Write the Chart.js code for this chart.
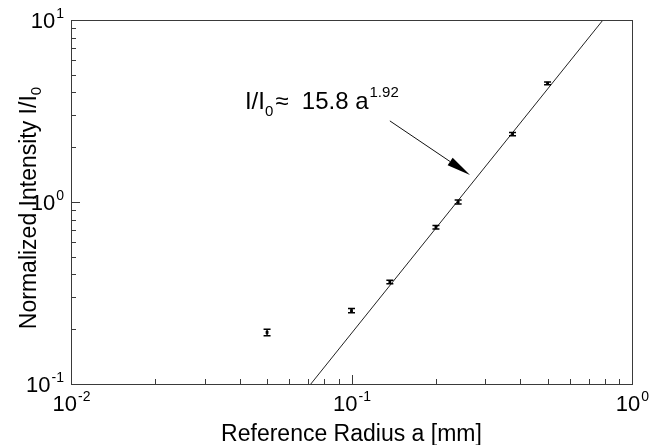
<!DOCTYPE html>
<html>
<head>
<meta charset="utf-8">
<script src="https://cdn.jsdelivr.net/npm/chart.js@4/dist/chart.umd.min.js"></script>
<style>
    html, body { margin: 0; padding: 0; background: #fff; }
    #wrap { width: 649px; height: 445px; position: relative; }
</style>
</head>
<body>
<div id="wrap"><canvas id="myChart"></canvas></div>
<script>
// measured points: reference radius [mm] vs normalized intensity
const RADIUS = [0.05, 0.1, 0.137, 0.2, 0.24, 0.375, 0.5];
const INTENSITY = [0.192, 0.253, 0.363, 0.726, 1.0, 2.36, 4.49];
const INTENSITY_ERR = [0.008, 0.007, 0.008, 0.016, 0.025, 0.05, 0.08];

// fit line I/I0 = 15.8 a^1.92, endpoints read where it leaves the frame
const FIT_RADIUS = [0.0716, 0.788];
const FIT_INTENSITY = [0.1, 10];

// decade tick labels (exponents of 10)
const X_TICK_EXP = [-2, -1, 0];
const Y_TICK_EXP = [-1, 0, 1];

const FONT = '"Liberation Sans", Arial, sans-serif';
const AXIS_COLOR = '#3a3a3a';

// annotation placement in data coords
const LABEL_AT = [0.0417, 3.23];
const ARROW_FROM = [0.137, 2.79];
const ARROW_TO = [0.2646, 1.407];

function drawPow(ctx, exp, x, y, align) {
    var base = '10', sup = String(exp);
    ctx.font = '22px ' + FONT;
    var wb = ctx.measureText(base).width;
    ctx.font = '14px ' + FONT;
    var we = ctx.measureText(sup).width;
    var left = align == 'right' ? x - wb - we : x - (wb + we) / 2;
    ctx.textAlign = 'left';
    ctx.textBaseline = 'alphabetic';
    ctx.font = '22px ' + FONT;
    ctx.fillText(base, left, y);
    ctx.font = '14px ' + FONT;
    ctx.fillText(sup, left + wb + 1, y - 10);
}

const framePlugin = {
    id: 'frame',
    afterDatasetsDraw(chart) {
        const ctx = chart.ctx, xs = chart.scales.x, ys = chart.scales.y;
        ctx.save();
        // error bars
        ctx.strokeStyle = '#000';
        ctx.lineWidth = 1.5;
        RADIUS.forEach(function (a, i) {
            var px = xs.getPixelForValue(a);
            var top = ys.getPixelForValue(INTENSITY[i] + INTENSITY_ERR[i]);
            var bot = ys.getPixelForValue(INTENSITY[i] - INTENSITY_ERR[i]);
            ctx.beginPath();
            ctx.moveTo(px, top); ctx.lineTo(px, bot);
            ctx.moveTo(px - 3.5, top); ctx.lineTo(px + 3.5, top);
            ctx.moveTo(px - 3.5, bot); ctx.lineTo(px + 3.5, bot);
            ctx.stroke();
        });
        ctx.restore();
    },
    afterDraw(chart) {
        const ctx = chart.ctx, area = chart.chartArea;
        const xs = chart.scales.x, ys = chart.scales.y;
        ctx.save();
        ctx.strokeStyle = AXIS_COLOR;
        ctx.lineWidth = 1;
        ctx.strokeRect(Math.round(area.left) + 0.5, Math.round(area.top) + 0.5,
            Math.round(area.right - area.left), Math.round(area.bottom - area.top));

        // inward ticks, bottom and left
        ctx.beginPath();
        for (var e = -2; e < 0; e++) {
            for (var m = 1; m <= 9; m++) {
                var v = m * Math.pow(10, e);
                var px = Math.round(xs.getPixelForValue(v)) + 0.5;
                var len = m == 1 ? 9 : 5;
                ctx.moveTo(px, area.bottom); ctx.lineTo(px, area.bottom - len);
            }
        }
        for (var e = -1; e < 1; e++) {
            for (var m = 1; m <= 9; m++) {
                var v = m * Math.pow(10, e);
                var py = Math.round(ys.getPixelForValue(v)) + 0.5;
                var len = m == 1 ? 9 : 5;
                ctx.moveTo(area.left, py); ctx.lineTo(area.left + len, py);
            }
        }
        ctx.stroke();

        ctx.fillStyle = '#000';
        X_TICK_EXP.forEach(function (e) {
            drawPow(ctx, e, xs.getPixelForValue(Math.pow(10, e)), area.bottom + 27, 'center');
        });
        Y_TICK_EXP.forEach(function (e) {
            drawPow(ctx, e, area.left - 8, ys.getPixelForValue(Math.pow(10, e)) + 8, 'right');
        });

        // axis titles
        ctx.font = '23px ' + FONT;
        ctx.textAlign = 'center';
        ctx.fillText('Reference Radius a [mm]', (area.left + area.right) / 2, 441);

        ctx.save();
        ctx.translate(36, 208);
        ctx.rotate(-Math.PI / 2);
        var t1 = 'Normalized Intensity I/I';
        ctx.font = '23px ' + FONT;
        var w1 = ctx.measureText(t1).width;
        ctx.font = '15px ' + FONT;
        var w2 = ctx.measureText('0').width;
        var x0 = -(w1 + w2) / 2;
        ctx.textAlign = 'left';
        ctx.font = '23px ' + FONT;
        ctx.fillText(t1, x0, 0);
        ctx.font = '15px ' + FONT;
        ctx.fillText('0', x0 + w1, 5);
        ctx.restore();

        // fit annotation
        var lx = xs.getPixelForValue(LABEL_AT[0]), ly = ys.getPixelForValue(LABEL_AT[1]);
        ctx.textAlign = 'left';
        ctx.font = '24px ' + FONT;
        ctx.fillText('I/I', lx, ly);
        var cx = lx + ctx.measureText('I/I').width;
        ctx.font = '15px ' + FONT;
        ctx.fillText('0', cx, ly + 7);
        cx += ctx.measureText('0').width + 2;
        ctx.font = '24px ' + FONT;
        ctx.fillText('\u2248  15.8 a', cx, ly);
        cx += ctx.measureText('\u2248  15.8 a').width + 1;
        ctx.font = '15px ' + FONT;
        ctx.fillText('1.92', cx, ly - 12);

        // arrow
        var ax = xs.getPixelForValue(ARROW_FROM[0]), ay = ys.getPixelForValue(ARROW_FROM[1]);
        var bx = xs.getPixelForValue(ARROW_TO[0]), by = ys.getPixelForValue(ARROW_TO[1]);
        var dx = bx - ax, dy = by - ay, d = Math.sqrt(dx * dx + dy * dy);
        var ux = dx / d, uy = dy / d, hl = 24, hw = 4.5;
        ctx.strokeStyle = '#111';
        ctx.lineWidth = 1;
        ctx.beginPath();
        ctx.moveTo(ax, ay); ctx.lineTo(bx - ux * hl, by - uy * hl);
        ctx.stroke();
        ctx.fillStyle = '#000';
        ctx.beginPath();
        ctx.moveTo(bx, by);
        ctx.lineTo(bx - ux * hl - uy * hw, by - uy * hl + ux * hw);
        ctx.lineTo(bx - ux * hl + uy * hw, by - uy * hl - ux * hw);
        ctx.closePath();
        ctx.fill();
        ctx.restore();
    }
};

const ctx1 = document.getElementById('myChart');
const myChart = new Chart(ctx1, {
    type: 'scatter',
    data: {
        datasets: [{
            label: 'fit',
            data: FIT_RADIUS.map(function (a, i) { return { x: a, y: FIT_INTENSITY[i] }; }),
            showLine: true,
            borderColor: '#222',
            borderWidth: 1,
            pointRadius: 0
        }, {
            label: 'measured',
            data: RADIUS.map(function (a, i) { return { x: a, y: INTENSITY[i] }; }),
            pointStyle: 'rect',
            pointRadius: 2,
            backgroundColor: '#000',
            borderColor: '#000',
            borderWidth: 0
        }]
    },
    options: {
        responsive: true,
        maintainAspectRatio: false,
        animation: false,
        layout: { padding: { left: 71, top: 20, right: 17, bottom: 61 } },
        plugins: { legend: { display: false }, tooltip: { enabled: false } },
        scales: {
            x: { type: 'logarithmic', min: 0.01, max: 1, display: false },
            y: { type: 'logarithmic', min: 0.1, max: 10, display: false }
        }
    },
    plugins: [framePlugin]
});
</script>
</body>
</html>
